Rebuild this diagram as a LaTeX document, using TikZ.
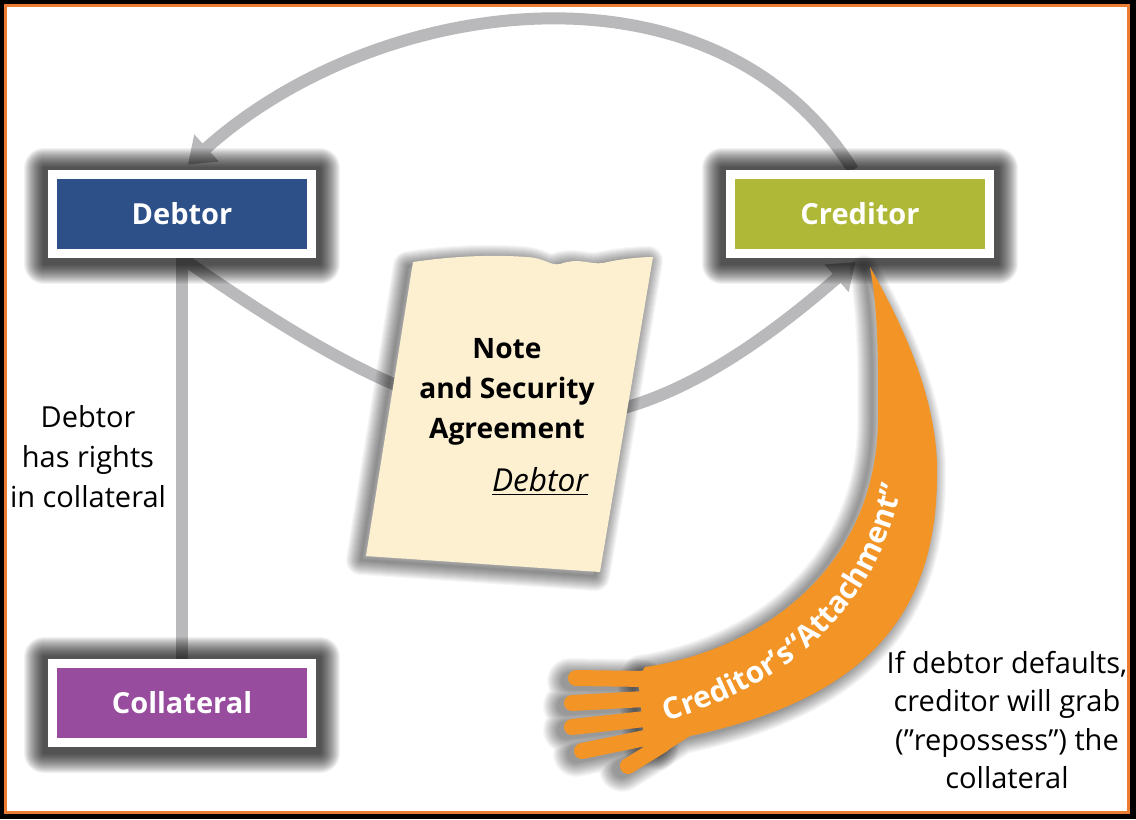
\documentclass[tikz,border=0pt]{standalone}
\usepackage{fontspec}
\setmainfont{Open Sans}
\setsansfont{Open Sans}
\usetikzlibrary{arrows.meta,decorations.text}
\definecolor{debtorblue}{HTML}{2E5088}
\definecolor{creditorgreen}{HTML}{AFB937}
\definecolor{collateralpurple}{HTML}{984C9E}
\definecolor{armorange}{HTML}{F39426}
\definecolor{frameorange}{HTML}{EC7C30}
\definecolor{linegray}{HTML}{B9B9BB}
\definecolor{paper}{HTML}{FCF0D0}
\pgfdeclarelayer{bg}
\pgfdeclarelayer{lines}
\pgfdeclarelayer{shade}
\pgfsetlayers{bg,lines,shade,main}
% outlines used twice (shadow and fill)
\newcommand*\notesheet{(413,-262) .. controls (460,-255) and (500,-255) .. (527,-257)
    .. controls (545,-258) and (550,-266) .. (560,-264)
    .. controls (580,-257) and (590,-265) .. (603,-263)
    .. controls (620,-259) and (640,-257) .. (653,-257)
    -- (600,-572) -- (366,-556) -- cycle}
\newcommand*\armshape{(870,-267) .. controls (900,-320) and (940,-400) .. (937,-480)
    .. controls (935,-620) and (860,-700) .. (690,-736)
    -- (665,-752) -- (645,-748) -- (638,-678) -- (645,-667)
    .. controls (760,-650) and (876,-570) .. (878,-420)
    .. controls (879,-340) and (876,-300) .. (870,-267) -- cycle}
\newcommand*\fingers{(648,-679) -- (576,-678) (645,-699) -- (572,-703) (645,-719) -- (572,-727)
    (650,-737) -- (582,-751) (662,-745) -- (628,-766)}

\begin{document}
\begin{tikzpicture}[x=0.02cm,y=0.02cm,
    party/.style={draw=white,line width=0.18cm,minimum width=5.18cm,minimum height=1.58cm,
      inner sep=0pt,text=white,font=\fontsize{16.5}{16.5}\selectfont\bfseries},
    link/.style={linegray,line width=0.24cm},
    note/.style={align=center,font=\fontsize{16.5}{22.7}\selectfont}]
  \begin{pgfonlayer}{bg}
    \fill [black] (0,0) rectangle (1136,-819);
    \fill [frameorange] (4,-4) rectangle (1130,-814);
    \fill [white] (7,-7) rectangle (1127,-811);
  \end{pgfonlayer}
  \useasboundingbox (0,0) rectangle (1136,-819);

  \node[party,fill=debtorblue] (debtor) at (182,-214) {Debtor};
  \node[party,fill=creditorgreen] (creditor) at (860,-214) {Creditor};
  \node[party,fill=collateralpurple] (collateral) at (182,-703) {Collateral};

  \begin{pgfonlayer}{shade}
    \foreach \n in {debtor,creditor,collateral}
      \foreach \s in {1,...,20}
        \fill [black,opacity=0.05,rounded corners=\s*0.02cm]
          ([shift={(-\s-4,\s+2)}]\n.north west) rectangle ([shift={(\s+4,-\s-6)}]\n.south east);
  \end{pgfonlayer}

  % the note
  \foreach \w in {2,4,...,30}
    \draw [black,opacity=0.035,line width=\w*0.02cm,line join=round,shift={(-5,-4)}] \notesheet;
  \fill [paper] \notesheet;
  \node[font=\fontsize{16}{22.7}\selectfont\bfseries,align=center] (agreement) at (507,-392) {Note\\and Security\\Agreement};
  \node[font=\fontsize{18}{18}\selectfont\itshape] (signature) at (540,-481) {\underline{Debtor}};

  % the arm
  \foreach \w in {2,4,...,30} {
    \draw [black,opacity=0.03,line width=\w*0.02cm,line join=round,shift={(-6,-3)}] \armshape;
    \draw [black,opacity=0.03,line width=\w*0.02cm+0.32cm,line cap=round,shift={(-6,-3)}] \fingers;
  }
  \fill [armorange] \armshape;
  \draw [armorange,line width=0.32cm,line cap=round] \fingers;
  \path [decorate,decoration={text along path,text align=center,text color=white,
      text={|\fontsize{17}{17}\selectfont\bfseries|Creditor’s“Attachment”}}]
    (636,-730) .. controls (780,-692) and (884,-620) .. (908,-455);

  \node[note] (rights) at (88,-457) {Debtor\\has rights\\in collateral};
  \node[note,font=\fontsize{16.5}{21.8}\selectfont] (grab) at (1007,-720) {If debtor defaults,\\creditor will grab\\(”repossess”) the\\collateral};

  \begin{pgfonlayer}{lines}
    \draw [link] (collateral) -- (debtor);
    \draw [link,-{Triangle[width=0.7cm,length=0.5cm]},shorten >=0.12cm]
      (debtor.south) to[out=-35,in=221,looseness=1.3] (creditor.south);
    \draw [link,-{Triangle[width=0.7cm,length=0.5cm]},shorten >=0.16cm]
      ([xshift=-0.14cm]creditor.north) to[out=122,in=42] (debtor.north);
  \end{pgfonlayer}
\end{tikzpicture}
\end{document}
